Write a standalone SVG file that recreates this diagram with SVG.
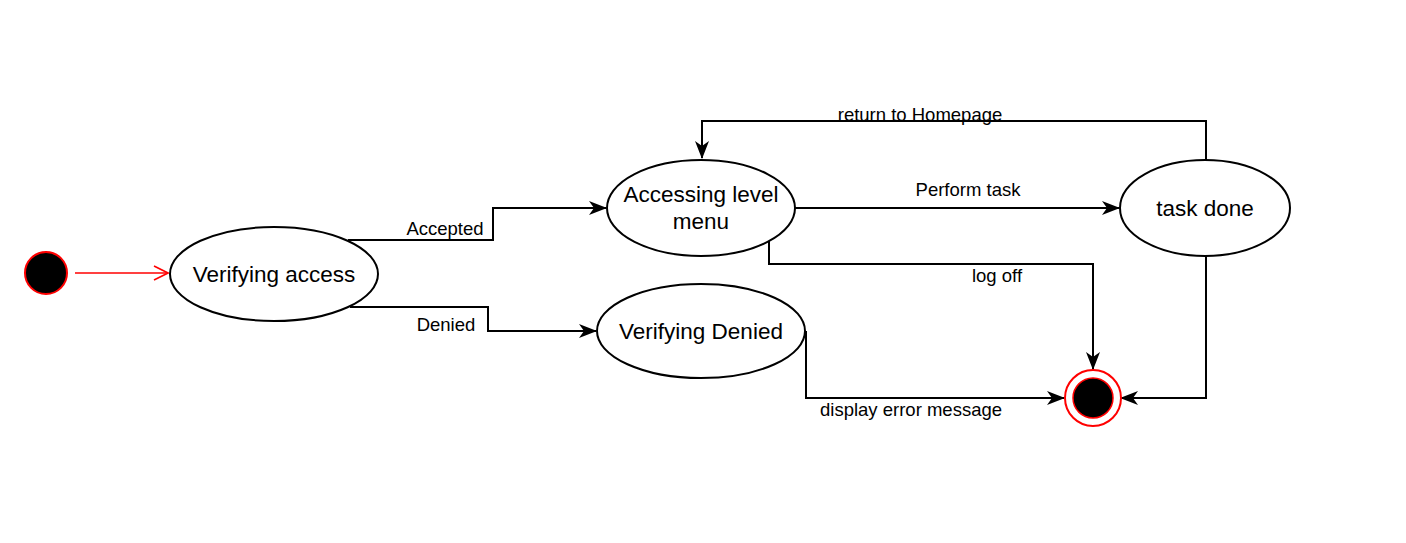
<svg xmlns="http://www.w3.org/2000/svg" width="1406" height="543" viewBox="0 0 1406 543">
<style>
.node{fill:#fff;stroke:#000;stroke-width:2}
.nt{font-family:"Liberation Sans",Arial,sans-serif;font-size:22.5px;fill:#000;text-anchor:middle}
.lb{font-family:"Liberation Sans",Arial,sans-serif;font-size:18.5px;fill:#000;text-anchor:middle}
.edge{fill:none;stroke:#000;stroke-width:2}
</style>
<defs>
<marker id="ah" viewBox="0 0 18 14" refX="17" refY="7" markerWidth="18" markerHeight="14" markerUnits="userSpaceOnUse" orient="auto">
<path d="M0,0 L18,7 L0,14 L5,7 Z" fill="#000"/>
</marker>
<marker id="oa" viewBox="0 0 16 16" refX="15" refY="8" markerWidth="16" markerHeight="16" markerUnits="userSpaceOnUse" orient="auto">
<path d="M1,1 L15,8 L1,15" fill="none" stroke="#ff0000" stroke-width="1.6"/>
</marker>
</defs>
<rect width="1406" height="543" fill="#fff"/>
<g id="connectors">
<path class="edge" d="M75,273 L168,273" style="stroke:#ff0000;stroke-width:1.6" marker-end="url(#oa)"/>
<path class="edge" d="M348,240 L493,240 L493,208 L606,208" marker-end="url(#ah)"/>
<path class="edge" d="M350,307 L488,307 L488,331 L596,331" marker-end="url(#ah)"/>
<path class="edge" d="M795,208 L1119,208" marker-end="url(#ah)"/>
<path class="edge" d="M769,240 L769,264 L1093,264 L1093,369" marker-end="url(#ah)"/>
<path class="edge" d="M1206,160 L1206,121 L702,121 L702,158" marker-end="url(#ah)"/>
<path class="edge" d="M1206,256 L1206,398 L1121,398" marker-end="url(#ah)"/>
<path class="edge" d="M806,331 L806,398 L1064,398" marker-end="url(#ah)"/>
<text class="lb" x="445" y="235">Accepted</text>
<text class="lb" x="446" y="331">Denied</text>
<text class="lb" x="968" y="196">Perform task</text>
<text class="lb" x="997" y="282">log off</text>
<text class="lb" x="920" y="121">return to Homepage</text>
<text class="lb" x="911" y="416">display error message</text>
</g>
<g id="start">
<circle cx="46" cy="273" r="21" fill="#000" stroke="#ff0000" stroke-width="2"/>
</g>
<g id="verifying-access">
<ellipse class="node" cx="274" cy="274" rx="104" ry="47"/>
<text class="nt" x="274" y="282">Verifying access</text>
</g>
<g id="accessing-level-menu">
<ellipse class="node" cx="701" cy="208" rx="94" ry="48"/>
<text class="nt" x="701" y="202">Accessing level</text>
<text class="nt" x="701" y="229">menu</text>
</g>
<g id="task-done">
<ellipse class="node" cx="1205" cy="208" rx="85" ry="48"/>
<text class="nt" x="1205" y="216">task done</text>
</g>
<g id="verifying-denied">
<ellipse class="node" cx="701" cy="331" rx="104" ry="47"/>
<text class="nt" x="701" y="339">Verifying Denied</text>
</g>
<g id="end">
<circle cx="1093" cy="398" r="28" fill="#fff" stroke="#ff0000" stroke-width="2"/>
<circle cx="1093" cy="398" r="20" fill="#000" stroke="#ff0000" stroke-width="1.5"/>
</g>
</svg>
